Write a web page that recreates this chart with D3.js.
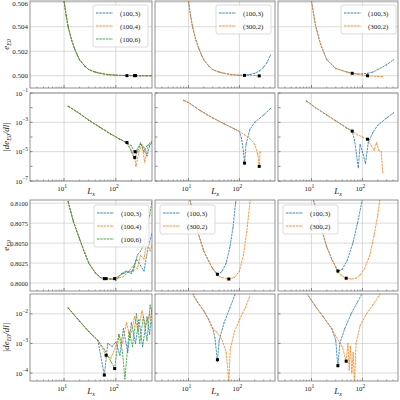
<!DOCTYPE html>
<html><head><meta charset="utf-8">
<script src="https://cdn.jsdelivr.net/npm/d3@7"></script>
<style>body{margin:0;background:#fff}text{font-family:"Liberation Serif",serif;fill:#222}</style>
</head><body><svg id="c" width="400" height="400"></svg>
<script>
//////////////// Daten ////////////////
const C = {b:"#1f77b4", o:"#ff7f0e", g:"#2ca02c"};

// Zeile 1 / 3: e_E0(L); Zeile 2 / 4: log10 |de/dl|
const eBase = [[10,.5061],[11,.5049],[12,.5040],[14,.5029],[16,.5022],[18,.5017],[20,.5013],[25,.5008],[30,.5005],[40,.5003],[50,.5002],[70,.50009],[100,.50004]];
const eTail = [[150,.50002],[200,.50001],[300,.500005],[400,.5],[500,.5]];
const dBase = [[12,-1.9],[20,-2.4],[30,-2.85],[50,-3.35],[80,-3.8],[120,-4.15],[164,-4.4]];

const p11 = [
  {c:"b", lab:"(100,3)", d:eBase.concat(eTail)},
  {c:"o", lab:"(100,4)", d:eBase.concat(eTail)},
  {c:"g", lab:"(100,6)", d:eBase.concat(eTail)}];
const p11dots = [[164,.50001],[230,.50001],[240,.50001]];

const p21 = [
  {c:"b", d:dBase.concat([[200,-5.0],[230,-5.5],[260,-5.0],[300,-4.5],[350,-4.7],[400,-5.3],[450,-4.6],[500,-4.4]])},
  {c:"o", d:dBase.concat([[200,-4.9],[232,-5.4],[245,-6.0],[280,-5.0],[320,-4.5],[360,-5.7],[420,-4.6],[500,-4.3]])},
  {c:"g", d:dBase.concat([[200,-4.6],[235,-5.1],[300,-4.4],[350,-5.0],[400,-4.6],[500,-4.3]])}];
const p21dots = [[164,-4.38],[232,-5.4],[236,-5.0]];

const p12 = [
  {c:"b", lab:"(100,3)", d:eBase.concat([[120,.50005],[160,.5001],[200,.5002],[250,.5004],[300,.5007],[350,.5011],[410,.5017]])},
  {c:"o", lab:"(300,2)", d:eBase.concat([[150,.50002],[200,.50001],[250,.49998]])}];
const p12dots = [[126,.50003],[245,.49999]];

const d2Base = [[8,-1.5],[10,-1.65],[17,-2.2],[30,-2.7],[50,-3.1],[80,-3.45],[100,-3.62]];
const p22 = [
  {c:"b", d:d2Base.concat([[110,-4.1],[120,-5.0],[126,-5.8],[135,-4.5],[160,-3.5],[200,-3.0],[300,-2.5],[410,-2.05]])},
  {c:"o", d:d2Base.concat([[126,-3.85],[160,-4.1],[200,-4.5],[230,-5.2],[245,-6.0],[255,-5.0]])}];
const p22dots = [[126,-5.78],[245,-6.0]];

const e3Base = [[10,.5061],[12,.5041],[15,.5026],[20,.5013],[30,.5006],[50,.5003],[63,.5002]];
const p13 = [
  {c:"b", lab:"(100,3)", d:e3Base.concat([[80,.50015],[100,.50015],[126,.5002],[160,.5003],[200,.5005],[300,.5009],[410,.5013]])},
  {c:"o", lab:"(300,2)", d:e3Base.concat([[100,.50005],[126,.5],[200,.49995],[250,.49993]])}];
const p13dots = [[63,.5002],[126,.5]];

const d3Base = [[8,-1.55],[12,-2.0],[20,-2.5],[30,-2.9],[50,-3.4],[63,-3.6]];
const p23 = [
  {c:"b", d:d3Base.concat([[70,-4.2],[83,-6.1],[90,-4.5],[100,-5.0],[115,-5.8],[130,-4.4],[160,-3.7],[200,-3.2],[300,-2.7],[410,-2.35]])},
  {c:"o", d:d3Base.concat([[80,-3.85],[100,-4.0],[126,-4.15],[150,-4.6],[170,-4.9],[190,-4.4],[210,-4.9],[235,-5.0],[250,-6.4]])}];
const p23dots = [[63,-3.6],[126,-4.15]];

const e4Base = [[12,.8102],[15,.8078],[20,.8055],[25,.8038],[30,.8025],[40,.8013],[50,.8007],[60,.80055],[80,.8005],[95,.8005]];
const p31 = [
  {c:"b", lab:"(100,3)", d:e4Base.concat([[100,.8003],[130,.8012],[160,.8015],[200,.8012],[250,.8030],[300,.8022],[350,.8015],[420,.8045],[500,.8062]])},
  {c:"o", lab:"(100,4)", d:e4Base.concat([[110,.8006],[140,.8008],[180,.8015],[220,.8022],[260,.8018],[300,.8035],[350,.8030],[400,.8055],[460,.8040],[500,.8048]])},
  {c:"g", lab:"(100,6)", d:e4Base.concat([[110,.8008],[140,.8012],[180,.8014],[220,.8015],[260,.8035],[300,.8040],[350,.8048],[400,.8070],[450,.8085],[500,.8102]])}];
const p31dots = [[60,.80055],[65,.80055],[95,.80055]];

const d4Base = [[12,-1.8],[20,-2.25],[30,-2.6],[45,-2.9]];
const p41 = [
  {c:"b", d:d4Base.concat([[60,-4.07],[70,-3.0],[85,-3.1],[100,-2.95],[120,-3.4],[140,-2.5],[170,-3.3],[200,-2.3],[240,-3.0],[280,-2.2],[330,-3.1],[400,-2.1],[450,-2.7],[500,-1.8]])},
  {c:"o", d:d4Base.concat([[65,-3.4],[80,-3.5],[100,-3.1],[115,-2.7],[135,-3.0],[160,-2.3],[190,-2.8],[230,-2.1],[270,-2.6],[320,-1.9],[380,-2.4],[450,-2.0],[500,-2.4]])},
  {c:"g", d:d4Base.concat([[60,-3.2],[80,-3.6],[95,-3.85],[115,-2.7],[135,-3.3],[150,-4.2],[180,-2.6],[210,-3.1],[250,-2.0],[290,-3.0],[340,-2.1],[400,-2.9],[460,-1.7],[500,-2.0]])}];
const p41dots = [[60,-4.07],[65,-3.4],[95,-3.85]];

const e5Base = [[10,.8112],[12,.8090],[15,.8065],[20,.8040],[25,.8027],[30,.8018]];
const p32 = [
  {c:"b", lab:"(100,3)", d:e5Base.concat([[37,.8011],[45,.8014],[55,.8025],[65,.8045],[75,.8070],[84,.8100],[90,.8115]])},
  {c:"o", lab:"(300,2)", d:e5Base.concat([[37,.8009],[45,.8007],[62,.8005],[80,.8007],[100,.8015],[120,.8035],[140,.8065],[160,.8100],[170,.8115]])}];
const p32dots = [[37,.8011],[62,.8005]];

const d5Base = [[10,-1.1],[15,-1.6],[20,-1.9],[25,-2.2],[30,-2.5]];
const p42 = [
  {c:"b", d:d5Base.concat([[33,-2.8],[37,-3.6],[40,-2.9],[50,-2.3],[65,-1.8],[84,-1.3],[90,-1.2]])},
  {c:"o", d:d5Base.concat([[35,-2.6],[45,-2.85],[55,-3.3],[60,-4.0],[62,-4.4],[66,-3.2],[80,-2.6],[100,-2.2],[130,-1.8],[160,-1.4]])}];
const p42dots = [[37,-3.55]];

const e6Base = [[10,.8112],[12,.8095],[15,.8072],[20,.8045],[25,.8030],[30,.8020]];
const p33 = [
  {c:"b", lab:"(100,3)", d:e6Base.concat([[33,.8015],[40,.8017],[50,.8028],[65,.8050],[80,.8075],[100,.8105]])},
  {c:"o", lab:"(300,2)", d:e6Base.concat([[33,.8013],[40,.8009],[48,.8006],[60,.8005],[75,.8006],[90,.8010],[110,.8018],[140,.8035],[170,.8060],[200,.8085],[220,.8105]])}];
const p33dots = [[33,.8015],[48,.8006]];

const d6Base = [[8,-1.3],[12,-1.75],[17,-2.1],[25,-2.5]];
const p43 = [
  {c:"b", d:d6Base.concat([[30,-2.9],[33,-3.8],[36,-3.0],[45,-2.5],[60,-2.0],[80,-1.6],[100,-1.3]])},
  {c:"o", d:d6Base.concat([[30,-2.75],[40,-3.1],[48,-3.6],[52,-3.0],[55,-3.9],[58,-3.1],[62,-4.0],[66,-3.3],[70,-4.4],[75,-3.0],[90,-2.4],[120,-2.0],[160,-1.7],[220,-1.35]])}];
const p43dots = [[33,-3.75],[48,-3.6]];

const xDom = [2.2, 500];
const yTicks1 = [0.500, 0.502, 0.504, 0.506];
const yTicks3 = [0.8000, 0.8025, 0.8050, 0.8075, 0.8100];
const yExp2 = [-1, -3, -5, -7];
const yExp4 = [-2, -3, -4];
const xExp = [1, 2];

//////////////// Layout ////////////////
const cols = [[30,152],[155,275],[278,398]];
const rows = [[1,88],[93,181],[200,291],[294,381]];
const svg = d3.select("#c");
let clipN = 0;

function sup(t, base, ex){
  t.text(base);
  t.append("tspan").attr("dy", -3.5).style("font-size","5.5px").text(ex);
}

function panel(ci, ri, series, dots, opt){
  const [x0,x1] = cols[ci], [y0,y1] = rows[ri];
  const x = d3.scaleLog().domain(xDom).range([x0,x1]);
  const y = d3.scaleLinear().domain(opt.dom).range([y1,y0]);
  const g = svg.append("g");
  const id = "cl" + (clipN++);
  g.append("clipPath").attr("id", id).append("rect")
    .attr("x",x0).attr("y",y0).attr("width",x1-x0).attr("height",y1-y0);
  // Gitter
  xExp.forEach(e => g.append("line").attr("x1",x(Math.pow(10,e))).attr("x2",x(Math.pow(10,e)))
    .attr("y1",y0).attr("y2",y1).attr("stroke","#ccc").attr("stroke-width",0.7));
  opt.ticks.forEach(t => g.append("line").attr("x1",x0).attr("x2",x1).attr("y1",y(t)).attr("y2",y(t))
    .attr("stroke","#ccc").attr("stroke-width",0.7));
  // Minor ticks x
  [3,4,5,6,7,8,9,20,30,40,50,60,70,80,90,200,300,400].forEach(v => {
    g.append("line").attr("x1",x(v)).attr("x2",x(v)).attr("y1",y1).attr("y2",y1-1.5).attr("stroke","#444").attr("stroke-width",0.5);
  });
  xExp.forEach(e => g.append("line").attr("x1",x(Math.pow(10,e))).attr("x2",x(Math.pow(10,e)))
    .attr("y1",y1).attr("y2",y1-3).attr("stroke","#444").attr("stroke-width",0.6));
  if (opt.log) {
    for (let e = Math.ceil(opt.dom[0]); e <= opt.dom[1]; e++)
      g.append("line").attr("x1",x0).attr("x2",x0+2.5).attr("y1",y(e)).attr("y2",y(e)).attr("stroke","#444").attr("stroke-width",0.6);
  }
  // Linien
  const line = d3.line().x(d => x(d[0])).y(d => y(d[1]));
  const lg = g.append("g").attr("clip-path", "url(#"+id+")");
  series.forEach(s => {
    lg.append("path").datum(s.d).attr("d", line).attr("fill","none")
      .attr("stroke", C[s.c]).attr("stroke-width", 0.8).attr("stroke-dasharray","2.5,0.8");
    lg.selectAll(null).data(s.d).join("circle").attr("cx",d=>x(d[0])).attr("cy",d=>y(d[1]))
      .attr("r",0.5).attr("fill",C[s.c]);
  });
  lg.selectAll(null).data(dots).join("rect")
    .attr("x",d=>x(d[0])-1.5).attr("y",d=>y(d[1])-1.5).attr("width",3).attr("height",3).attr("fill","#000");
  // Rahmen
  g.append("rect").attr("x",x0).attr("y",y0).attr("width",x1-x0).attr("height",y1-y0)
    .attr("fill","none").attr("stroke","#777").attr("stroke-width",0.8);
  // Achsenbeschriftung
  if (ci === 0) {
    const fs = opt.dec === 4 ? "6.5px" : "7px";
    opt.ticks.forEach(t => {
      const ty = Math.max(y(t)+2.5, 6);
      const tx = g.append("text").attr("x",x0-2).attr("y",ty).attr("text-anchor","end").style("font-size",fs);
      if (opt.log) sup(tx, "10", "\u2212" + Math.abs(t)); else tx.text(t.toFixed(opt.dec));
    });
    const yl = g.append("text").attr("transform","translate(9," + ((y0+y1)/2) + ") rotate(-90)")
      .attr("text-anchor","middle").style("font-size","9px").style("font-style","italic");
    if (opt.log) {
      yl.text("|de");
      yl.append("tspan").attr("dy",2).style("font-size","6px").text("E0");
      yl.append("tspan").attr("dy",-2).text("/dl|");
    } else {
      yl.text("e");
      yl.append("tspan").attr("dy",2).style("font-size","6px").text("E0");
    }
  }
  if (opt.xlab) {
    xExp.forEach(e => {
      const tx = g.append("text").attr("x",x(Math.pow(10,e))-2).attr("y",y1+10).attr("text-anchor","middle").style("font-size","7px");
      sup(tx, "10", String(e));
    });
    const xl = g.append("text").attr("x",(x0+x1)/2).attr("y",y1+13).attr("text-anchor","middle")
      .style("font-size","9px").style("font-style","italic").text("L");
    xl.append("tspan").attr("dy",2).style("font-size","6px").text("x");
  }
  // Legende
  if (opt.leg) {
    const [lx, ly] = opt.leg, w = 55, h = series.length*13 + 3;
    const leg = g.append("g").attr("transform","translate("+lx+","+ly+")");
    leg.append("rect").attr("width",w).attr("height",h).attr("rx",2)
      .attr("fill","#fff").attr("fill-opacity",0.85).attr("stroke","#ccc").attr("stroke-width",0.7);
    series.forEach((s,i) => {
      const yy = 8 + i*13;
      leg.append("line").attr("x1",3).attr("x2",20).attr("y1",yy).attr("y2",yy)
        .attr("stroke",C[s.c]).attr("stroke-width",0.9).attr("stroke-dasharray","2.5,0.8");
      leg.append("text").attr("x",27).attr("y",yy+2.5).style("font-size","7px").text(s.lab);
    });
  }
}

const r1 = {dom:[0.4990,0.5061], ticks:yTicks1, dec:3};
const r2 = {dom:[-7,-1], ticks:yExp2, log:true, xlab:true};
const r3 = {dom:[0.7990,0.8104], ticks:yTicks3, dec:4};
const r4 = {dom:[-4.27,-1.33], ticks:yExp4, log:true, xlab:true};

panel(0,0,p11,p11dots,Object.assign({leg:[93,5]},r1));
panel(1,0,p12,p12dots,Object.assign({leg:[216,5]},r1));
panel(2,0,p13,p13dots,Object.assign({leg:[341,5]},r1));
panel(0,1,p21,p21dots,r2);
panel(1,1,p22,p22dots,r2);
panel(2,1,p23,p23dots,r2);
panel(0,2,p31,p31dots,Object.assign({leg:[94,205]},r3));
panel(1,2,p32,p32dots,Object.assign({leg:[160,205]},r3));
panel(2,2,p33,p33dots,Object.assign({leg:[283,205]},r3));
panel(0,3,p41,p41dots,r4);
panel(1,3,p42,p42dots,r4);
panel(2,3,p43,p43dots,r4);
</script></body></html>
